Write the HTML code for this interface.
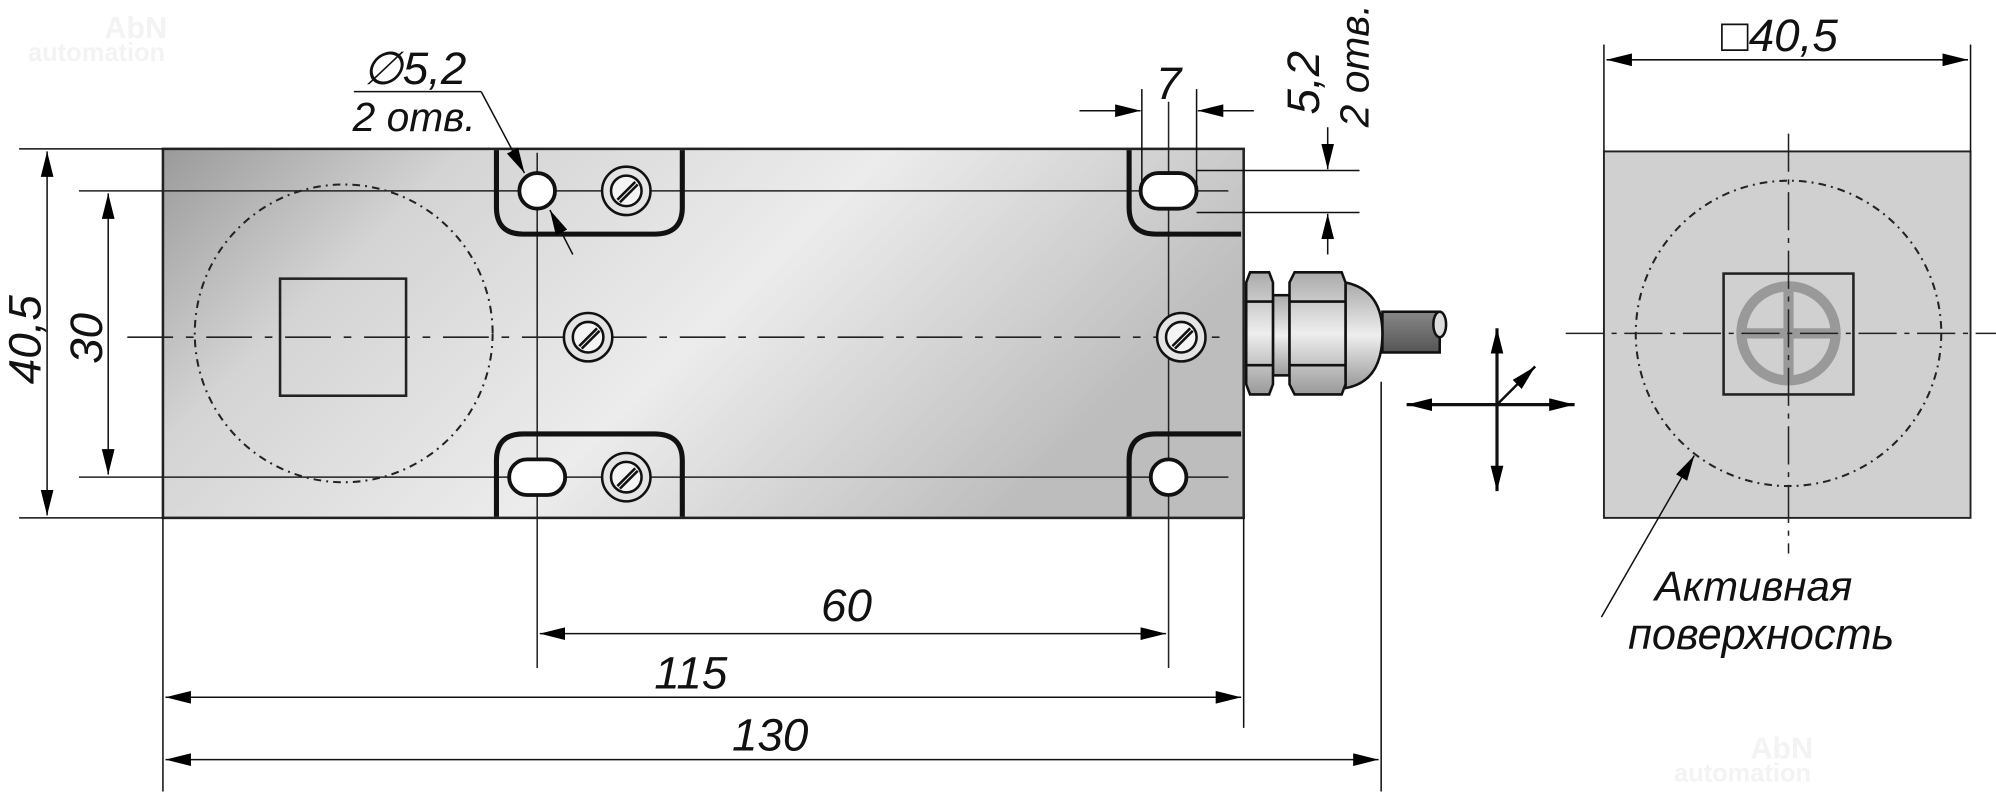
<!DOCTYPE html>
<html><head><meta charset="utf-8"><style>html,body{margin:0;padding:0;background:#fff}svg{display:block}</style></head>
<body>
<svg width="1996" height="794" viewBox="0 0 1568 624" preserveAspectRatio="none" xmlns="http://www.w3.org/2000/svg" font-family="Liberation Sans, sans-serif" font-style="italic">
<defs>
<linearGradient id="body" x1="0" y1="0" x2="1" y2="0.35">
<stop offset="0" stop-color="#9a9a9a"/><stop offset="0.25" stop-color="#d4d4d4"/><stop offset="0.6" stop-color="#ececec"/><stop offset="0.85" stop-color="#cfcfcf"/><stop offset="1" stop-color="#bdbdbd"/>
</linearGradient>
<linearGradient id="nut" x1="0" y1="0" x2="0" y2="1"><stop offset="0" stop-color="#aaa"/><stop offset="0.5" stop-color="#eee"/><stop offset="1" stop-color="#999"/></linearGradient>
<linearGradient id="cab" x1="0" y1="0" x2="0" y2="1"><stop offset="0" stop-color="#888"/><stop offset="1" stop-color="#555"/></linearGradient>
<marker id="a" viewBox="0 0 20 10" refX="20" refY="5" markerWidth="20" markerHeight="10" markerUnits="userSpaceOnUse" orient="auto-start-reverse"><path d="M0,0 L20,5 L0,10 Z" fill="#000"/></marker>
</defs>
<!-- watermarks -->
<text x="82" y="30" font-size="24" font-weight="bold" font-style="normal" fill="#f3f3f3">AbN</text>
<text x="22" y="48" font-size="20" font-weight="bold" font-style="normal" fill="#f3f3f3">automation</text>
<text x="1375" y="596" font-size="24" font-weight="bold" font-style="normal" fill="#f3f3f3">AbN</text>
<text x="1315" y="614" font-size="20" font-weight="bold" font-style="normal" fill="#f3f3f3">automation</text>

<!-- body -->
<rect x="128" y="117" width="849" height="290" fill="url(#body)" stroke="#222" stroke-width="2"/>
<circle cx="270" cy="262" r="117" fill="none" stroke="#222" stroke-width="1.6" stroke-dasharray="6,4,1.5,4"/>
<rect x="220" y="219" width="99" height="92" fill="none" stroke="#222" stroke-width="2"/>
<line x1="100" y1="265" x2="965" y2="265" stroke="#222" stroke-width="1.2" stroke-dasharray="36,10,6,10"/>
<line x1="62" y1="150" x2="965" y2="150" stroke="#222" stroke-width="1.2"/>
<line x1="62" y1="375" x2="965" y2="375" stroke="#222" stroke-width="1.2"/>
<line x1="422" y1="120" x2="422" y2="525" stroke="#222" stroke-width="1.2"/>
<line x1="918" y1="80" x2="918" y2="525" stroke="#222" stroke-width="1.2"/>

<!-- brackets -->
<g fill="none" stroke="#111" stroke-width="4">
<path d="M390,118 V163 Q390,184 411,184 H514 Q536,184 536,163 V118"/>
<path d="M390,406 V362 Q390,341 411,341 H514 Q536,341 536,362 V406"/>
<path d="M887,118 V163 Q887,184 908,184 H975"/>
<path d="M887,406 V362 Q887,341 908,341 H975"/>
</g>
<g stroke="#111" stroke-width="3">
<circle cx="422" cy="150" r="14" fill="#fff"/>
<rect x="896" y="136" width="44" height="28" rx="14" fill="#fff"/>
<rect x="400" y="361" width="44" height="28" rx="14" fill="#fff"/>
<circle cx="918" cy="375" r="14" fill="#fff"/>
</g>
<g fill="none" stroke="#111" stroke-width="2">
<g transform="translate(492,150)"><circle r="19" fill="#e4e4e4"/><circle r="12" fill="#f4f4f4"/><path d="M-7,7 L7,-7 M-5,9 L9,-5"/></g>
<g transform="translate(492,375)"><circle r="19" fill="#e4e4e4"/><circle r="12" fill="#f4f4f4"/><path d="M-7,7 L7,-7 M-5,9 L9,-5"/></g>
<g transform="translate(462,265)"><circle r="19" fill="#e4e4e4"/><circle r="12" fill="#f4f4f4"/><path d="M-7,7 L7,-7 M-5,9 L9,-5"/></g>
<g transform="translate(928,265)"><circle r="19" fill="#e4e4e4"/><circle r="12" fill="#f4f4f4"/><path d="M-7,7 L7,-7 M-5,9 L9,-5"/></g>
</g>

<!-- gland -->
<g stroke="#111" stroke-width="2">
<rect x="1086" y="245" width="45" height="32" fill="url(#cab)"/>
<ellipse cx="1131" cy="255" rx="5" ry="10" fill="#ddd"/>
<path d="M1057,222 Q1086,228 1086,262 Q1086,300 1057,305 Z" fill="url(#nut)"/>
<rect x="1000" y="232" width="13" height="63" fill="url(#nut)"/>
<path d="M982,214 H997 L1000,222 V302 L997,310 H982 L979,302 V222 Z" fill="url(#nut)"/>
<path d="M1017,214 H1054 L1057,222 V302 L1054,310 H1017 L1013,302 V222 Z" fill="url(#nut)"/>
<path d="M979,237 H1000 M979,287 H1000 M1013,237 H1057 M1013,287 H1057" fill="none"/>
</g>

<!-- right view -->
<rect x="1260" y="119" width="288" height="288" fill="#d0d0d0" stroke="#222" stroke-width="1.5"/>
<circle cx="1405" cy="262" r="120" fill="none" stroke="#222" stroke-width="1.6" stroke-dasharray="6,4,1.5,4"/>
<rect x="1354" y="215" width="102" height="95" fill="none" stroke="#222" stroke-width="2"/>
<circle cx="1405" cy="262" r="37" fill="none" stroke="#999" stroke-width="8"/>
<path d="M1368,262 H1442 M1405,225 V299" stroke="#999" stroke-width="8"/>
<path d="M1230,262 H1575 M1405,105 V435" stroke="#222" stroke-width="1.2" stroke-dasharray="30,6,4,6"/>

<!-- dimensions -->
<g stroke="#111" stroke-width="1.2" fill="none">
<line x1="15" y1="117" x2="128" y2="117"/><line x1="15" y1="407" x2="128" y2="407"/>
<line x1="37" y1="119" x2="37" y2="405" marker-start="url(#a)" marker-end="url(#a)"/>
<line x1="85" y1="152" x2="85" y2="373" marker-start="url(#a)" marker-end="url(#a)"/>
<line x1="424" y1="498" x2="916" y2="498" marker-start="url(#a)" marker-end="url(#a)"/>
<line x1="128" y1="407" x2="128" y2="622"/><line x1="977" y1="407" x2="977" y2="572"/><line x1="1085" y1="300" x2="1085" y2="622"/>
<line x1="130" y1="548" x2="975" y2="548" marker-start="url(#a)" marker-end="url(#a)"/>
<line x1="130" y1="597" x2="1083" y2="597" marker-start="url(#a)" marker-end="url(#a)"/>
<line x1="897" y1="70" x2="897" y2="150"/><line x1="940" y1="70" x2="940" y2="150"/>
<line x1="848" y1="87" x2="896" y2="87" marker-end="url(#a)"/>
<line x1="985" y1="87" x2="941" y2="87" marker-end="url(#a)"/>
<line x1="940" y1="134" x2="1068" y2="134"/><line x1="940" y1="167" x2="1068" y2="167"/>
<line x1="1043" y1="100" x2="1043" y2="133" marker-end="url(#a)"/>
<line x1="1043" y1="200" x2="1043" y2="168" marker-end="url(#a)"/>
<line x1="278" y1="72" x2="378" y2="72"/>
<line x1="378" y1="72" x2="412" y2="136" marker-end="url(#a)"/>
<line x1="450" y1="200" x2="432" y2="165" marker-end="url(#a)"/>
<line x1="1260" y1="35" x2="1260" y2="119"/><line x1="1548" y1="35" x2="1548" y2="119"/>
<line x1="1262" y1="47" x2="1546" y2="47" marker-start="url(#a)" marker-end="url(#a)"/>
<line x1="1258" y1="485" x2="1331" y2="358" marker-end="url(#a)"/>
<line x1="1105" y1="318" x2="1237" y2="318" stroke-width="2.5" marker-start="url(#a)" marker-end="url(#a)"/>
<line x1="1176" y1="258" x2="1176" y2="386" stroke-width="2.5" marker-start="url(#a)" marker-end="url(#a)"/>
<line x1="1176" y1="318" x2="1206" y2="288" stroke-width="2" marker-end="url(#a)"/>
</g>

<!-- texts -->
<g font-size="36" fill="#111">
<text transform="translate(32,302) rotate(-90)">40,5</text>
<text transform="translate(80,286) rotate(-90)">30</text>
<text x="645" y="488">60</text>
<text x="514" y="541">115</text>
<text x="575" y="590">130</text>
<text x="908" y="78">7</text>
<text x="1352" y="40">□40,5</text>
<text transform="translate(1036,90) rotate(-90)">5,2</text>
<text transform="translate(1075,100) rotate(-90)" font-size="32">2 отв.</text>
<text x="285" y="66">∅5,2</text>
<text x="277" y="103" font-size="32">2 отв.</text>
<text x="1300" y="472" font-size="33">Активная</text>
<text x="1279" y="510" font-size="34">поверхность</text>
</g>
</svg>
</body></html>
